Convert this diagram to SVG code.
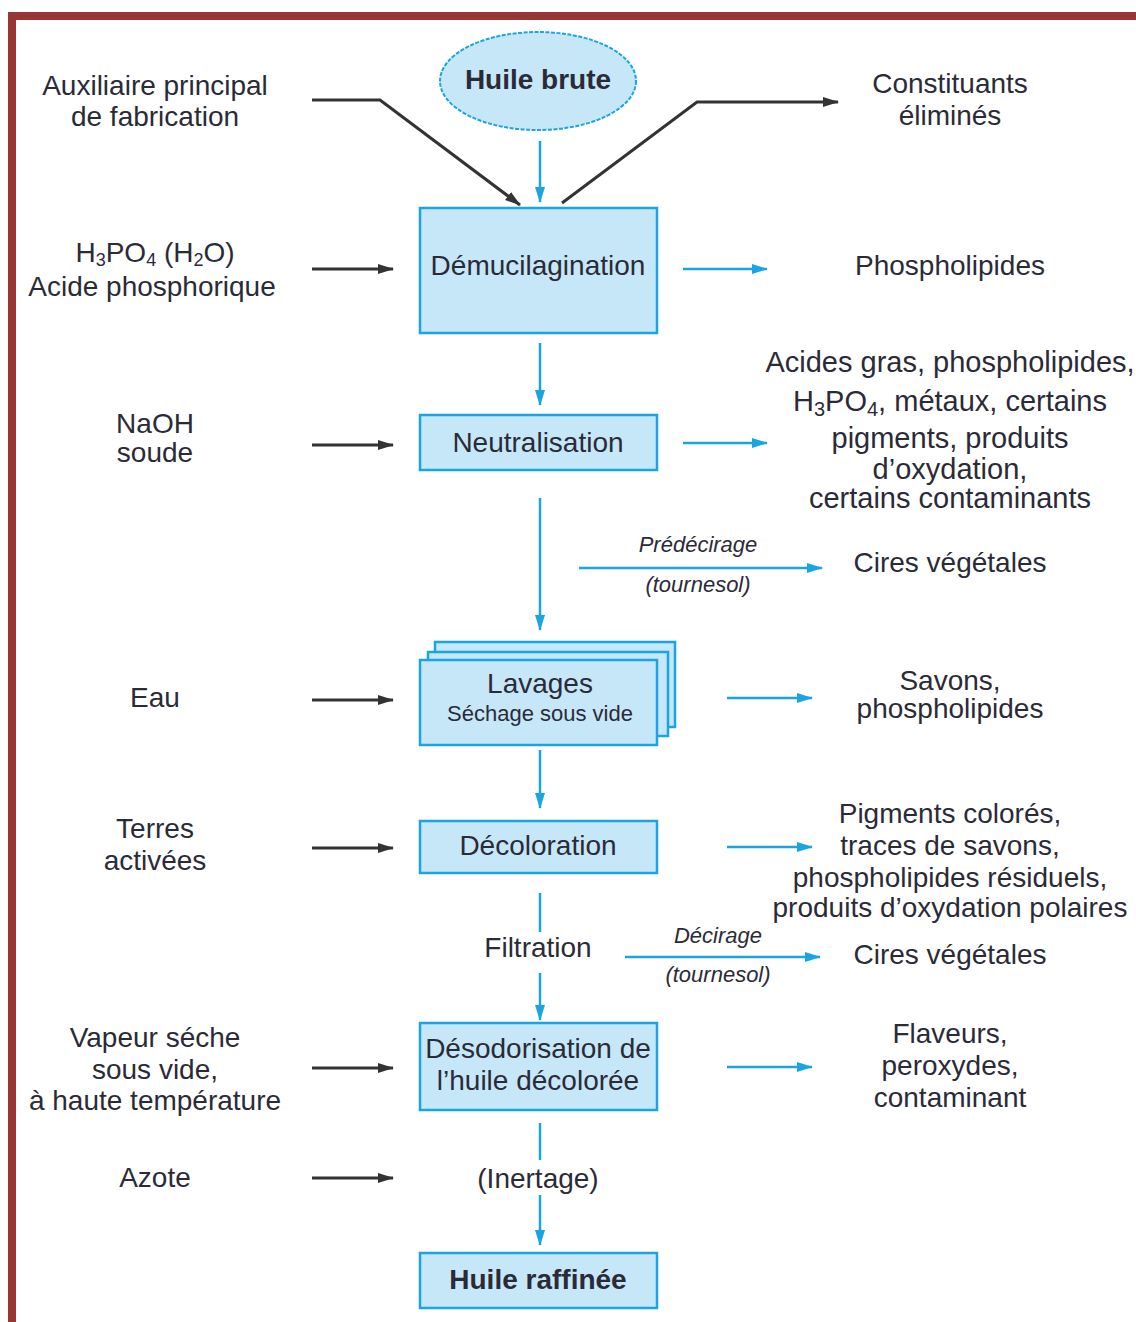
<svg xmlns="http://www.w3.org/2000/svg" width="1136" height="1322" viewBox="0 0 1136 1322">
<style>
text{font-family:"Liberation Sans",Arial,sans-serif;fill:#2b2b38;text-anchor:middle;font-size:28px}
.b{font-weight:bold}
.it{font-style:italic;font-size:22px}
.sm{font-size:22px}
.r{font-size:29px}
.box{fill:#c6e7f8;stroke:#1ba4e2;stroke-width:2.5}
.bl{stroke:#1ba4e2;stroke-width:2.5;fill:none}
.bk{stroke:#333;stroke-width:3;fill:none}
</style>
<defs>
<marker id="ab" markerUnits="userSpaceOnUse" markerWidth="16" markerHeight="12" refX="15" refY="6" orient="auto"><path d="M0,1 L16,6 L0,11 z" fill="#1ba4e2"/></marker>
<marker id="ak" markerUnits="userSpaceOnUse" markerWidth="16" markerHeight="12" refX="15" refY="6" orient="auto"><path d="M0,1 L16,6 L0,11 z" fill="#333"/></marker>
</defs>
<rect width="1136" height="1322" fill="#fff"/>
<rect x="8" y="12" width="1128" height="8" fill="#983535"/>
<rect x="8" y="12" width="8" height="1310" fill="#983535"/>

<g id="connectors">
<polyline class="bk" points="312,100 380,100 520,205" marker-end="url(#ak)"/>
<polyline class="bk" points="562,203 697,102 838,102" marker-end="url(#ak)"/>
<line class="bl" x1="540" y1="141" x2="540" y2="202" marker-end="url(#ab)"/>
<line class="bk" x1="312" y1="269" x2="393" y2="269" marker-end="url(#ak)"/>
<line class="bl" x1="683" y1="269" x2="767" y2="269" marker-end="url(#ab)"/>
<line class="bl" x1="540" y1="343" x2="540" y2="405" marker-end="url(#ab)"/>
<line class="bk" x1="312" y1="445" x2="393" y2="445" marker-end="url(#ak)"/>
<line class="bl" x1="683" y1="443" x2="767" y2="443" marker-end="url(#ab)"/>
<line class="bl" x1="540" y1="498" x2="540" y2="630" marker-end="url(#ab)"/>
<line class="bl" x1="579" y1="568" x2="822" y2="568" marker-end="url(#ab)"/>
<line class="bk" x1="312" y1="700" x2="393" y2="700" marker-end="url(#ak)"/>
<line class="bl" x1="727" y1="698" x2="812" y2="698" marker-end="url(#ab)"/>
<line class="bl" x1="540" y1="750" x2="540" y2="808" marker-end="url(#ab)"/>
<line class="bk" x1="312" y1="848" x2="393" y2="848" marker-end="url(#ak)"/>
<line class="bl" x1="727" y1="847" x2="812" y2="847" marker-end="url(#ab)"/>
<line class="bl" x1="540" y1="893" x2="540" y2="932"/>
<line class="bl" x1="540" y1="973" x2="540" y2="1020" marker-end="url(#ab)"/>
<line class="bl" x1="625" y1="957" x2="820" y2="957" marker-end="url(#ab)"/>
<line class="bk" x1="312" y1="1068" x2="393" y2="1068" marker-end="url(#ak)"/>
<line class="bl" x1="727" y1="1067" x2="812" y2="1067" marker-end="url(#ab)"/>
<line class="bl" x1="540" y1="1123" x2="540" y2="1160"/>
<line class="bl" x1="540" y1="1195" x2="540" y2="1245" marker-end="url(#ab)"/>
<line class="bk" x1="312" y1="1178" x2="393" y2="1178" marker-end="url(#ak)"/>
<text class="it" x="698" y="552">Prédécirage</text>
<text class="it" x="698" y="592">(tournesol)</text>
<text class="it" x="718" y="943">Décirage</text>
<text class="it" x="718" y="982">(tournesol)</text>
</g>

<g id="huile-brute">
<ellipse cx="538" cy="81" rx="98" ry="49" fill="#c6e7f8" stroke="#1ba4e2" stroke-width="2" stroke-dasharray="4,1.5"/>
<text class="b" x="538" y="89" font-size="29">Huile brute</text>
</g>
<g id="demucilagination">
<rect class="box" x="420" y="208" width="237" height="125"/>
<text x="538" y="275">Démucilagination</text>
</g>
<g id="neutralisation">
<rect class="box" x="420" y="415" width="237" height="55"/>
<text x="538" y="452">Neutralisation</text>
</g>
<g id="lavages">
<rect class="box" x="435" y="642" width="240" height="85"/>
<rect class="box" x="428" y="652" width="240" height="84"/>
<rect class="box" x="420" y="660" width="237" height="85"/>
<text x="540" y="693" font-size="27">Lavages</text>
<text class="sm" x="540" y="721">Séchage sous vide</text>
</g>
<g id="decoloration">
<rect class="box" x="420" y="821" width="237" height="52"/>
<text x="538" y="855">Décoloration</text>
</g>
<g id="filtration">
<text x="538" y="957">Filtration</text>
</g>
<g id="desodorisation">
<rect class="box" x="420" y="1023" width="237" height="87"/>
<text x="538" y="1058">Désodorisation de</text>
<text x="538" y="1090">l’huile décolorée</text>
</g>
<g id="inertage">
<text x="538" y="1188">(Inertage)</text>
</g>
<g id="huile-raffinee">
<rect class="box" x="420" y="1253" width="237" height="55"/>
<text class="b" x="538" y="1289">Huile raffinée</text>
</g>

<g id="in-auxiliaire"><text x="155" y="95">Auxiliaire principal</text><text x="155" y="126">de fabrication</text></g>
<g id="in-h3po4"><text x="155" y="262">H<tspan font-size="18" dy="4">3</tspan><tspan dy="-4">PO</tspan><tspan font-size="18" dy="4">4</tspan><tspan dy="-4"> (H</tspan><tspan font-size="18" dy="4">2</tspan><tspan dy="-4">O)</tspan></text><text x="152" y="296">Acide phosphorique</text></g>
<g id="in-naoh"><text x="155" y="433">NaOH</text><text x="155" y="462">soude</text></g>
<g id="in-eau"><text x="155" y="707">Eau</text></g>
<g id="in-terres"><text x="155" y="838">Terres</text><text x="155" y="870">activées</text></g>
<g id="in-vapeur"><text x="155" y="1047">Vapeur séche</text><text x="155" y="1079">sous vide,</text><text x="155" y="1110">à haute température</text></g>
<g id="in-azote"><text x="155" y="1187">Azote</text></g>

<g id="out-constituants"><text x="950" y="93">Constituants</text><text x="950" y="125">éliminés</text></g>
<g id="out-phospholipides"><text x="950" y="275">Phospholipides</text></g>
<g id="out-neutralisation">
<text class="r" x="950" y="372">Acides gras, phospholipides,</text>
<text class="r" x="950" y="411">H<tspan font-size="20" dy="5">3</tspan><tspan dy="-5">PO</tspan><tspan font-size="20" dy="5">4</tspan><tspan dy="-5">, métaux, certains</tspan></text>
<text class="r" x="950" y="448">pigments, produits</text>
<text class="r" x="950" y="479">d’oxydation,</text>
<text class="r" x="950" y="508">certains contaminants</text>
</g>
<g id="out-cires1"><text x="950" y="572">Cires végétales</text></g>
<g id="out-savons"><text x="950" y="690">Savons,</text><text x="950" y="718">phospholipides</text></g>
<g id="out-pigments"><text x="950" y="823">Pigments colorés,</text><text x="950" y="855">traces de savons,</text><text x="950" y="887">phospholipides résiduels,</text><text x="950" y="917">produits d’oxydation polaires</text></g>
<g id="out-cires2"><text x="950" y="964">Cires végétales</text></g>
<g id="out-flaveurs"><text x="950" y="1043">Flaveurs,</text><text x="950" y="1075">peroxydes,</text><text x="950" y="1107">contaminant</text></g>
</svg>
